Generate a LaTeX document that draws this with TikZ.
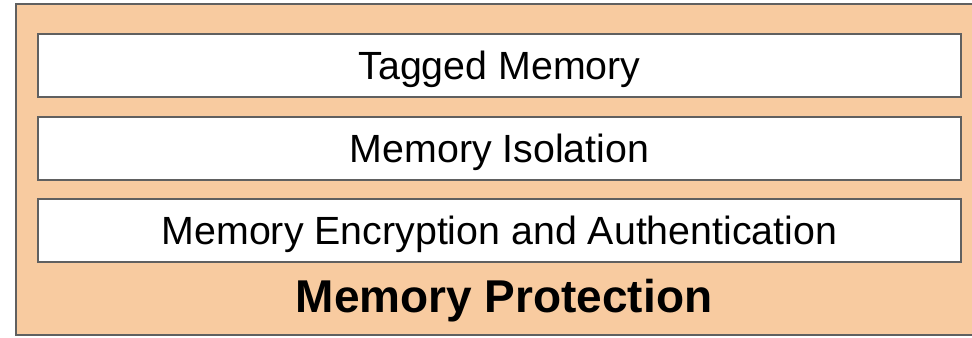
\documentclass[tikz,border=0pt]{standalone}
\usepackage{fontspec}
\setmainfont{Liberation Sans}
\usetikzlibrary{positioning}

\definecolor{peach}{HTML}{F8CBA0}
\definecolor{rim}{HTML}{606060}

\begin{document}
\begin{tikzpicture}[x=0.75pt,y=-0.75pt]
\tikzstyle{layerbox}=[draw=rim,line width=1.5pt,fill=white,minimum width=692pt,minimum height=47pt,inner sep=0pt,text height=21.1pt,text depth=0pt,font=\fontsize{29.5}{34}\selectfont]
\useasboundingbox (0,0) rectangle (972,337);
% outer frame
\draw [rim,fill=peach,line width=1.5pt] (16,4) rectangle (990,335);
% layers
\node [layerbox] (tagged) at (499.5,65.5) {Tagged Memory};
\node [layerbox] (isolation) at (499.5,148.5) {Memory Isolation};
\node [layerbox] (crypt) at (499.5,230.5) {Memory Encryption and Authentication};
\node [inner sep=0pt,text height=24.7pt,text depth=0pt,font=\bfseries\fontsize{34.5}{40}\selectfont] (protect) at (504,296.5) {Memory Protection};
\end{tikzpicture}
\end{document}
